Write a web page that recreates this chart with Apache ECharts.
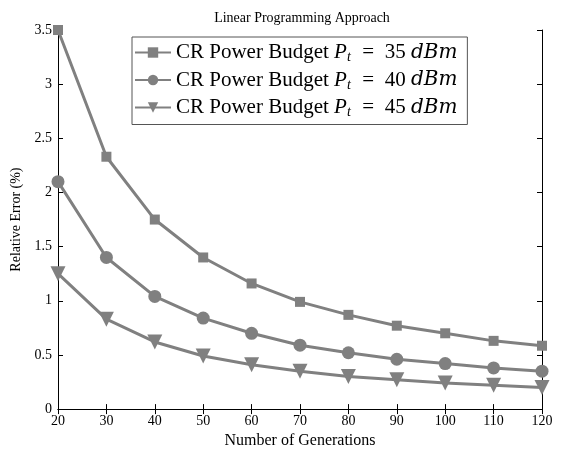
<!DOCTYPE html>
<html>
<head>
<meta charset="utf-8">
<script src="https://cdn.jsdelivr.net/npm/echarts@6/dist/echarts.min.js"></script>
<style>
  html, body { margin: 0; padding: 0; background: #fff; }
  #main { width: 562px; height: 454px; }
</style>
</head>
<body>
<div id="main"></div>
<script>
var generations = [20, 30, 40, 50, 60, 70, 80, 90, 100, 110, 120];
var powerLevels = [35, 40, 45];
var err35 = [3.50, 2.33, 1.75, 1.40, 1.16, 0.99, 0.87, 0.77, 0.70, 0.63, 0.585];
var err40 = [2.10, 1.40, 1.04, 0.84, 0.70, 0.59, 0.52, 0.46, 0.42, 0.38, 0.35];
var err45 = [1.25, 0.83, 0.62, 0.49, 0.41, 0.35, 0.30, 0.27, 0.24, 0.22, 0.20];
var yTicks = [0, 0.5, 1, 1.5, 2, 2.5, 3, 3.5];

var font = '"Liberation Serif", "DejaVu Serif", serif';
var mathFont = '"DejaVu Serif", serif';
var grey = '#808080';

var allSeries = [err35, err40, err45];
var symbols = ['rect', 'circle', 'triangle'];
var symbolSizes = [10, 13, 15];
var rotations = [0, 0, 180];

function seriesName(p) {
  return 'CR Power Budget Pt = ' + p + ' dBm';
}

let myChart = echarts.init(document.getElementById('main'));

var series = [];
for (var i = 0; i < allSeries.length; i++) {
  series.push({
    name: seriesName(powerLevels[i]),
    type: 'line',
    xAxisIndex: 0,
    yAxisIndex: 0,
    data: generations.map(function (g, k) { return [g, allSeries[i][k]]; }),
    symbol: symbols[i],
    symbolSize: symbolSizes[i],
    symbolRotate: rotations[i],
    showAllSymbol: true,
    lineStyle: { color: grey, width: 3 },
    itemStyle: { color: grey },
    animation: false
  });
}

myChart.setOption({
  backgroundColor: '#fff',
  animation: false,
  title: {
    text: 'Linear Programming Approach',
    left: 297,
    top: 6,
    textAlign: 'center',
    textStyle: { fontFamily: font, fontSize: 14, fontWeight: 'normal', color: '#000' }
  },
  legend: {
    left: 132,
    top: 37,
    orient: 'vertical',
    itemGap: 5,
    itemWidth: 36,
    itemHeight: 13,
    padding: [5, 10, 5, 2],
    borderColor: '#555',
    borderWidth: 1,
    backgroundColor: '#fff',
    data: powerLevels.map(seriesName),
    formatter: function (name) {
      var p = name.match(/= (\d+)/)[1];
      return '{n|CR Power Budget }{i|P}{s|t}{n|  =  ' + p + ' }{m|dBm}';
    },
    textStyle: {
      fontFamily: font,
      fontSize: 21,
      color: '#000',
      rich: {
        n: { fontFamily: font, fontSize: 21, color: '#000', lineHeight: 23 },
        i: { fontFamily: font, fontSize: 21, fontStyle: 'italic', color: '#000', lineHeight: 23 },
        m: { fontFamily: mathFont, fontSize: 20, fontStyle: 'italic', color: '#000', lineHeight: 23 },
        s: { fontFamily: font, fontSize: 14, fontStyle: 'italic', color: '#000', padding: [10, 1, 0, 0] }
      }
    }
  },
  grid: { left: 58, right: 20, top: 30, bottom: 41 },
  xAxis: [
    {
      type: 'value',
      min: 20,
      max: 120,
      interval: 10,
      name: 'Number of Generations',
      nameLocation: 'middle',
      nameGap: 23,
      nameTextStyle: { fontFamily: font, fontSize: 16, color: '#000' },
      axisLine: { lineStyle: { color: '#000', width: 1 } },
      axisTick: { inside: true, length: 5, lineStyle: { color: '#000' } },
      axisLabel: { fontFamily: font, fontSize: 14, color: '#000', margin: 5 },
      splitLine: { show: false }
    },
    {
      type: 'value',
      position: 'top',
      min: 20,
      max: 120,
      interval: 10,
      axisLine: { show: true, lineStyle: { color: '#000', width: 1 } },
      axisTick: { show: true, inside: true, length: 5, lineStyle: { color: '#000' } },
      axisLabel: { show: false },
      splitLine: { show: false }
    }
  ],
  yAxis: [
    {
      type: 'value',
      min: 0,
      max: 3.5,
      interval: 0.5,
      name: 'Relative Error (%)',
      nameLocation: 'middle',
      nameGap: 32,
      nameTextStyle: { fontFamily: font, fontSize: 14, color: '#000' },
      axisLine: { show: true, lineStyle: { color: '#000', width: 1 } },
      axisTick: { show: true, inside: true, length: 5, lineStyle: { color: '#000' } },
      axisLabel: {
        fontFamily: font, fontSize: 14, color: '#000', margin: 6,
        formatter: function (v) { return yTicks.indexOf(v) >= 0 ? String(v) : ''; }
      },
      splitLine: { show: false }
    },
    {
      type: 'value',
      position: 'right',
      min: 0,
      max: 3.5,
      interval: 0.5,
      axisLine: { show: true, lineStyle: { color: '#000', width: 1 } },
      axisTick: { show: true, inside: true, length: 5, lineStyle: { color: '#000' } },
      axisLabel: { show: false },
      splitLine: { show: false }
    }
  ],
  series: series
});

window.addEventListener('resize', function () {
  myChart.resize();
});
</script>
</body>
</html>
